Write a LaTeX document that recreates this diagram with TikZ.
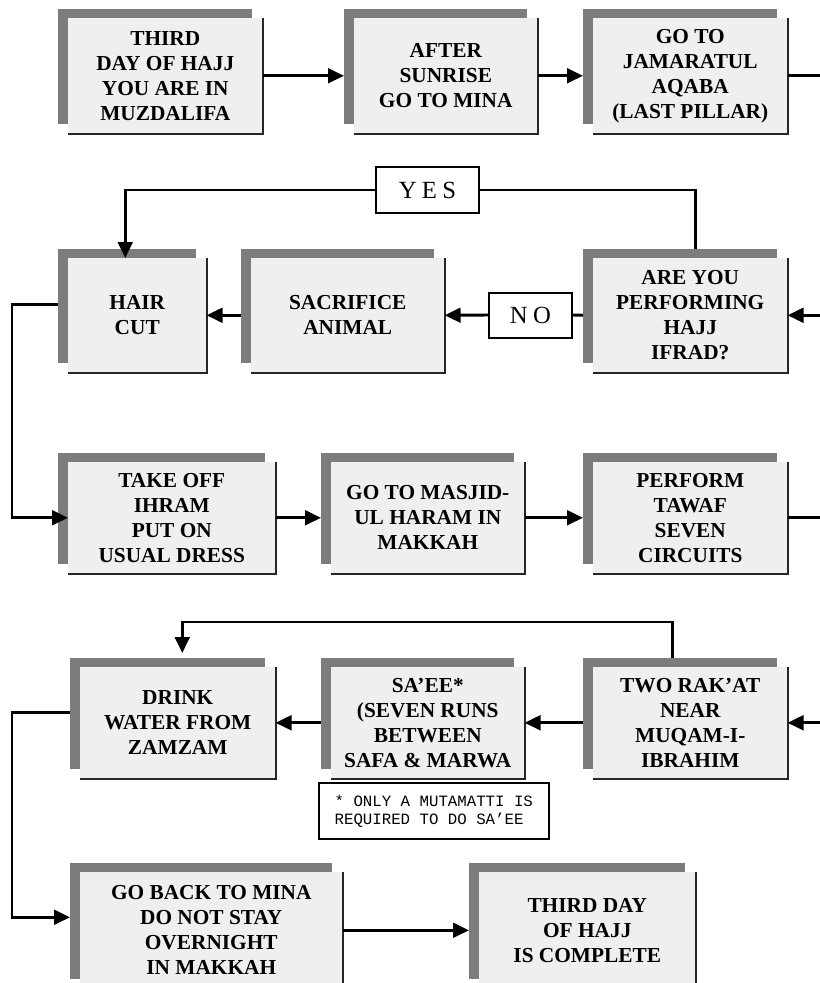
\documentclass[tikz,border=0pt]{standalone}
\usepackage{fontspec}
\setmainfont{Liberation Serif}
\newfontfamily\notefont{Liberation Mono}
\usetikzlibrary{shadows,arrows.meta}
\definecolor{boxfill}{HTML}{EFEFEF}
\definecolor{shadegray}{HTML}{7C7C7C}
\tikzset{
  stepbox/.style={anchor=north west, fill=boxfill, inner sep=0pt, align=center,
    font=\fontsize{16pt}{18.75pt}\selectfont\bfseries,
    drop shadow={shadow xshift=-7.5pt, shadow yshift=6.75pt, fill=shadegray, opacity=1}},
  sz/.style 2 args={minimum width=#1*0.75pt, minimum height=#2*0.75pt},
  edgeline/.style={line width=1.5pt, black!85},
  conn/.style={line width=2.2pt, -{Triangle[length=12pt,width=11pt]}},
  plain/.style={line width=2.2pt},
  tagbox/.style={draw, line width=1.5pt, fill=white, inner sep=0pt,
    font=\fontsize{18.5pt}{20pt}\selectfont\addfontfeature{LetterSpace=22}},
  notebox/.style={draw, line width=1.2pt, anchor=north west, inner sep=0pt, align=left,
    font=\notefont\fontsize{11.8pt}{13.5pt}\selectfont}
}
\begin{document}
\begin{tikzpicture}[x=0.75pt, y=-0.75pt]
\useasboundingbox (0,0) rectangle (820,983);
\clip (0,0) rectangle (820,983);

% steps, row by row
\node[stepbox, sz={194}{115}] (b1) at (68,18)  {THIRD\\DAY OF HAJJ\\YOU ARE IN\\MUZDALIFA};
\node[stepbox, sz={183}{115}] (b2) at (354,18) {AFTER\\SUNRISE\\GO TO MINA};
\node[stepbox, sz={194}{115}] (b3) at (593,18) {GO TO\\JAMARATUL\\AQABA\\(LAST PILLAR)};

\node[stepbox, sz={138}{114}] (b4) at (68,258)  {HAIR\\CUT};
\node[stepbox, sz={193}{114}] (b5) at (251,258) {SACRIFICE\\ANIMAL};
\node[stepbox, sz={194}{114}] (b6) at (593,258) {ARE YOU\\PERFORMING\\HAJJ\\IFRAD?};

\node[stepbox, sz={207}{111}] (b7) at (68,462)  {TAKE OFF\\IHRAM\\PUT ON\\USUAL DRESS};
\node[stepbox, sz={193}{111}] (b8) at (331,462) {GO TO MASJID-\\UL HARAM IN\\MAKKAH};
\node[stepbox, sz={194}{111}] (b9) at (593,462) {PERFORM\\TAWAF\\SEVEN\\CIRCUITS};

\node[stepbox, sz={195}{111}] (b10) at (80,667)  {DRINK\\WATER FROM\\ZAMZAM};
\node[stepbox, sz={193}{111}] (b11) at (331,667) {SA'EE*\\(SEVEN RUNS\\BETWEEN\\SAFA \& MARWA};
\node[stepbox, sz={194}{111}] (b12) at (593,667) {TWO RAK'AT\\NEAR\\MUQAM-I-\\IBRAHIM};

\node[stepbox, sz={262}{116}] (b13) at (80,872)  {GO BACK TO MINA\\DO NOT STAY\\OVERNIGHT\\IN MAKKAH};
\node[stepbox, sz={216}{116}] (b14) at (479,872) {THIRD DAY\\OF HAJJ\\IS COMPLETE};

% dark right and bottom edges of every step
\foreach \i in {1,...,14}
  \draw[edgeline] (b\i.north east) |- (b\i.south west);

% answer tags and footnote
\node[tagbox, sz={103}{46}] (yes) at (427.5,190) {YES};
\node[tagbox, sz={83}{45}]  (no)  at (530.5,315) {NO};
\node[notebox, sz={230}{56}] (note) at (318,782)
  {* ONLY A MUTAMATTI IS\\REQUIRED TO DO SA’EE};

% page-edge continuation points
\coordinate (edge) at (820,0);

% row 1
\draw[conn] (b1.east) -- ([xshift=-7.5pt]b2.west);
\draw[conn] (b2.east) -- ([xshift=-7.5pt]b3.west);
\draw[plain] (b3.east) -- (b3.east -| edge);

% row 2
\draw[conn] (b6.east -| edge) -- (b6.east);
\draw[plain] ([xshift=-7.5pt]b6.west) -- (no.east);
\draw[conn] (no.west) -- (b5.east);
\draw[conn] ([xshift=-7.5pt]b5.west) -- (b4.east);
\draw[plain] ([xshift=3.75pt,yshift=6.75pt]b6.north) |- (yes.east);
\draw[conn] (yes.west) -| ([xshift=-9pt]b4.north);
\draw[conn] ([xshift=-7.5pt,yshift=8.25pt]b4.west) -- ++(-46,0) |- (b7.west);

% row 3
\draw[conn] (b7.east) -- ([xshift=-7.5pt]b8.west);
\draw[conn] (b8.east) -- ([xshift=-7.5pt]b9.west);
\draw[plain] (b9.east) -- (b9.east -| edge);

% row 4
\draw[conn] (b12.east -| edge) -- (b12.east);
\draw[conn] ([xshift=-7.5pt]b12.west) -- (b11.east);
\draw[conn] ([xshift=-7.5pt]b11.west) -- (b10.east);
\draw[conn] ([xshift=-13.5pt,yshift=6.75pt]b12.north) -- ++(0,-36)
  -| ([xshift=3.375pt,yshift=10.5pt]b10.north);
\draw[conn] ([xshift=-7.5pt,yshift=7.5pt]b10.west) -- ++(-58,0)
  |- ([xshift=-7.5pt,yshift=9.75pt]b13.west);

% row 5
\draw[conn] (b13.east) -- ([xshift=-7.5pt]b14.west);
\end{tikzpicture}
\end{document}
